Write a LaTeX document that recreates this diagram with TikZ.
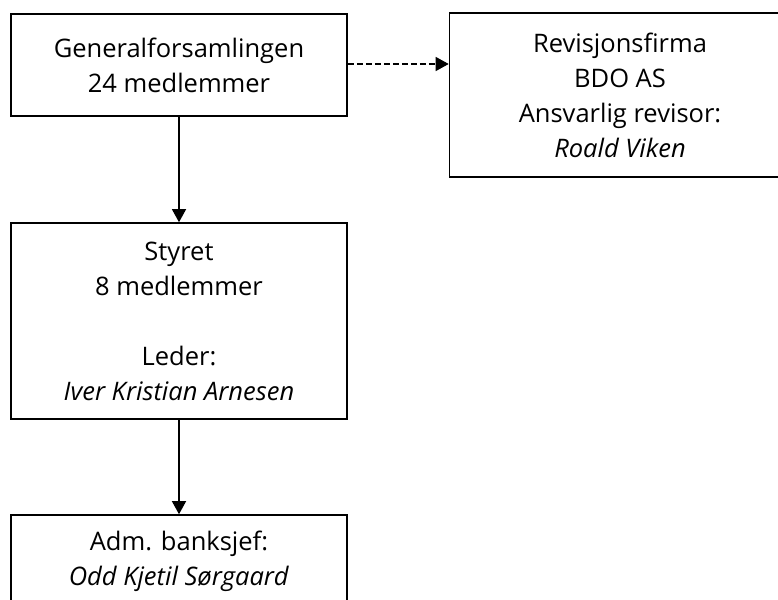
\documentclass[tikz,border=0pt]{standalone}
\usepackage{fontspec}
\setmainfont{Open Sans}
\usetikzlibrary{arrows.meta}
\begin{document}
\begin{tikzpicture}[x=1pt,y=-1pt,
  box/.style={draw,line width=1.6pt,rectangle,align=center,inner sep=0pt,
    font=\fontsize{25.5}{35}\selectfont},
  arr/.style={line width=1.3pt,-{Triangle[length=13pt,width=14pt]}}]
\useasboundingbox (0,0) rectangle (778,599);
\clip (0,0) rectangle (778,599);
\node[box,minimum width=336pt,minimum height=102pt] (g) at (179,65)
  {Generalforsamlingen\\24 medlemmer};
\node[box,minimum width=341pt,minimum height=164pt] (r) at (620,95)
  {Revisjonsfirma\\BDO AS\\Ansvarlig revisor:\\\textit{Roald Viken}};
\node[box,minimum width=336pt,minimum height=196pt] (s) at (179,321)
  {Styret\\8 medlemmer\\[35pt]Leder:\\\textit{Iver Kristian Arnesen}};
\node[box,minimum width=336pt,minimum height=93pt] (a) at (179,561.5)
  {Adm. banksjef:\\\textit{Odd Kjetil Sørgaard}};
\draw[arr] (g.south) -- (s.north);
\draw[arr] (s.south) -- (a.north);
\draw[arr,dash pattern=on 6pt off 3pt] (g.east |- 0,64) coordinate (d1) -- (r.west |- d1);
\end{tikzpicture}
\end{document}
